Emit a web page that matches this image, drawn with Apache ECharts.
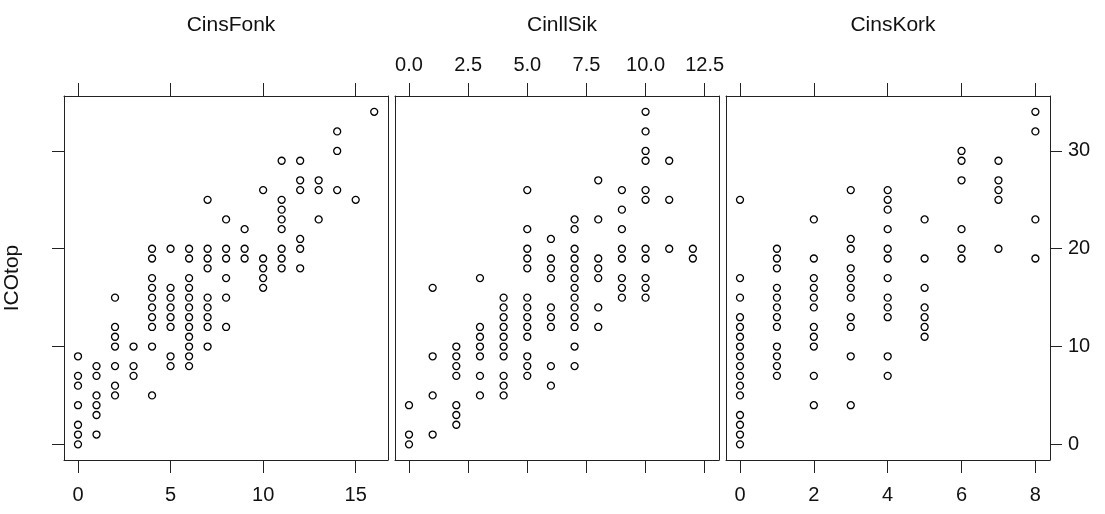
<!DOCTYPE html>
<html>
<head>
<meta charset="utf-8">
<script src="https://cdn.jsdelivr.net/npm/echarts@6/dist/echarts.min.js"></script>
<style>
html,body{margin:0;padding:0;background:#fff;}
#chart{width:1105px;height:514px;}
</style>
</head>
<body>
<div id="chart"></div>
<script>
// ICOtop values grouped by x value (index = x)
const cinsFonkCols = [
  [9,7,6,4,2,1,0],
  [8,7,5,4,3,1],
  [15,12,11,10,8,6,5],
  [10,8,7],
  [20,19,17,16,15,14,13,12,10,5],
  [20,16,15,14,13,12,9,8],
  [20,19,17,16,15,14,13,12,11,10,9,8],
  [25,20,19,18,15,14,13,12,10],
  [23,20,19,17,15,12],
  [22,20,19],
  [26,19,18,17,16],
  [29,25,24,23,22,20,19,18],
  [29,27,26,21,20,18],
  [27,26,23],
  [32,30,26],
  [25],
  [34]
];
const cinllSikCols = [
  [4,1,0],
  [16,9,5,1],
  [10,9,8,7,4,3,2],
  [17,12,11,10,9,7,5],
  [15,14,13,12,11,10,9,7,6,5],
  [26,22,20,19,18,15,14,13,12,11,9,8,7],
  [21,19,18,17,14,13,12,8,6],
  [23,22,20,19,18,17,16,15,14,13,12,10,8],
  [27,23,19,18,17,14,12],
  [26,24,22,20,19,17,16,15],
  [34,32,30,29,26,25,20,19,17,16,15],
  [29,25,20],
  [20,19]
];
const cinsKorkCols = [
  [25,17,15,13,12,11,10,9,8,7,6,5,3,2,1,0],
  [20,19,18,16,15,14,13,12,10,9,8,7],
  [23,19,17,16,15,14,12,11,10,7,4],
  [26,21,20,18,17,16,15,13,12,9,4],
  [26,25,24,22,20,19,17,15,14,13,9,7],
  [23,19,16,14,13,12,11],
  [30,29,27,22,20,19],
  [29,27,26,25,20],
  [34,32,23,19]
];
const panelNames = ['CinsFonk', 'CinllSik', 'CinsKork'];
const yName = 'ICOtop';
const fonkTicks = [0, 5, 10, 15];
const silkTicks = [0, 2.5, 5, 7.5, 10, 12.5];
const korkTicks = [0, 2, 4, 6, 8];
const yTicks = [0, 10, 20, 30];

function toPoints(cols) {
  const pts = [];
  cols.forEach((ys, x) => ys.forEach(y => pts.push([x, y])));
  return pts;
}

const FONT = "'Liberation Sans', Arial, sans-serif";
const LINE = '#222';
const panels = [
  {cols: cinsFonkCols, ticks: fonkTicks, min: -0.756, max: 16.745, left: 64, labelPos: 'bottom', fmt: v => String(v)},
  {cols: cinllSikCols, ticks: silkTicks, min: -0.592, max: 13.105, left: 395, labelPos: 'top', fmt: v => v.toFixed(1)},
  {cols: cinsKorkCols, ticks: korkTicks, min: -0.379, max: 8.396, left: 726, labelPos: 'bottom', fmt: v => String(v)}
];
const TOP = 96, H = 364, W = 324;
const yMin = -1.604, yMax = 35.62;

const grids = [], xAxes = [], yAxes = [], series = [], titles = [];
panels.forEach((p, i) => {
  grids.push({left: p.left, top: TOP, width: W, height: H, containLabel: false, outerBoundsMode: 'none'});
  ['bottom', 'top'].forEach(pos => {
    const showLab = pos === p.labelPos;
    xAxes.push({
      type: 'value', gridIndex: i, position: pos, min: p.min, max: p.max,
      axisLine: {show: true, onZero: false, lineStyle: {color: LINE, width: 1}},
      axisTick: {show: true, inside: false, length: 13, customValues: p.ticks, lineStyle: {color: LINE, width: 1}},
      axisLabel: {show: showLab, customValues: p.ticks, formatter: p.fmt, margin: pos === 'bottom' ? 25 : 21,
        fontFamily: FONT, fontSize: 20, color: '#111'},
      splitLine: {show: false}
    });
  });
  ['left', 'right'].forEach(pos => {
    const ticksOn = (pos === 'left' && i === 0) || (pos === 'right' && i === 2);
    const ax = {
      type: 'value', gridIndex: i, position: pos, min: yMin, max: yMax,
      axisLine: {show: true, onZero: false, lineStyle: {color: LINE, width: 1}},
      axisTick: {show: ticksOn, inside: false, length: 12, customValues: yTicks, lineStyle: {color: LINE, width: 1}},
      axisLabel: {show: pos === 'right' && i === 2, customValues: yTicks, margin: 18,
        fontFamily: FONT, fontSize: 20, color: '#111'},
      splitLine: {show: false}
    };
    if (pos === 'left' && i === 0) {
      ax.name = yName; ax.nameLocation = 'middle'; ax.nameGap = 41; ax.nameRotate = 90;
      ax.nameTextStyle = {fontFamily: FONT, fontSize: 21, color: '#111'};
    }
    yAxes.push(ax);
  });
  titles.push({text: panelNames[i], left: p.left + W / 2, top: 10, textAlign: 'center',
    textStyle: {fontFamily: FONT, fontSize: 21, fontWeight: 'normal', color: '#111'}});
  series.push({
    type: 'scatter', xAxisIndex: i * 2, yAxisIndex: i * 2, data: toPoints(p.cols),
    symbol: 'circle', symbolSize: 7,
    itemStyle: {color: 'rgba(0,0,0,0)', borderColor: '#000', borderWidth: 1.3, opacity: 1},
    emphasis: {disabled: true}, silent: true
  });
});

const chart = echarts.init(document.getElementById('chart'), null, {renderer: 'canvas'});
chart.setOption({
  animation: false,
  backgroundColor: '#fff',
  title: titles,
  grid: grids,
  xAxis: xAxes,
  yAxis: yAxes,
  series: series
});
</script>
</body>
</html>
